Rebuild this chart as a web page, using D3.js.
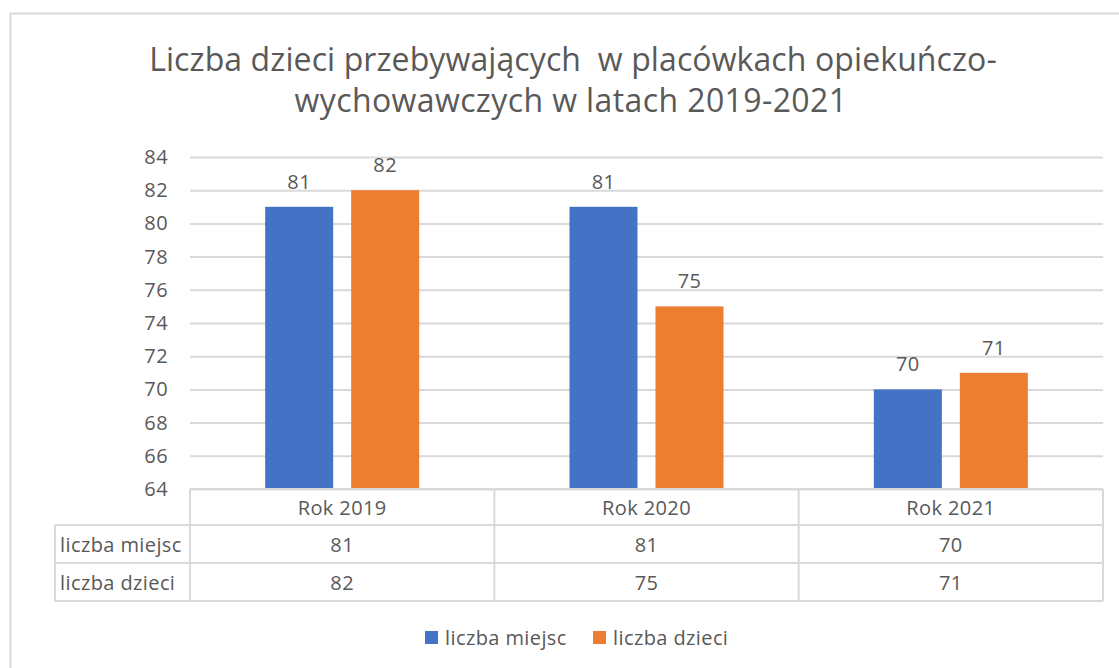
<!DOCTYPE html>
<html>
<head>
<meta charset="utf-8">
<script src="https://cdnjs.cloudflare.com/ajax/libs/d3/7.8.5/d3.min.js"></script>
<style>
  body { margin: 0; background: #fff; }
  svg text { font-family: "Open Sans", Lato, sans-serif; fill: #595959; }
  .lbl { font-size: 20px; letter-spacing: 0.4px; }
</style>
</head>
<body>
<svg id="chart" width="1119" height="668"></svg>
<script>
// data
var categories = ["Rok 2019", "Rok 2020", "Rok 2021"];
var seriesNames = ["liczba miejsc", "liczba dzieci"];
var miejsc = [81, 81, 70];
var dzieci = [82, 75, 71];
var yTicks = [64, 66, 68, 70, 72, 74, 76, 78, 80, 82, 84];
var colors = ["#4472C4", "#ED7D31"];

var series = [miejsc, dzieci];

var svg = d3.select("#chart");

// outer frame
svg.append("rect")
  .attr("x", 10.5).attr("y", 13.5)
  .attr("width", 1200).attr("height", 700)
  .attr("fill", "none").attr("stroke", "#d9d9d9").attr("stroke-width", 2);

// title
var title = svg.append("text")
  .attr("text-anchor", "middle")
  .style("white-space", "pre")
  .style("font-size", "32px").style("letter-spacing", "0.1px");
title.append("tspan").attr("x", 573).attr("y", 71).text("Liczba dzieci przebywających  w placówkach opiekuńczo-");
title.append("tspan").attr("x", 571).attr("y", 112).style("letter-spacing", "0.4px").text("wychowawczych w latach 2019-2021");

var plot = { left: 190, right: 1103, top: 157, bottom: 489 };

var x = d3.scaleBand().domain(categories).range([plot.left, plot.right]);
var y = d3.scaleLinear().domain([64, 84]).range([plot.bottom, plot.top]);

// grid
var yAxis = d3.axisLeft(y).tickValues(yTicks).tickSize(-(plot.right - plot.left)).tickPadding(22);
var gy = svg.append("g").attr("transform", "translate(" + plot.left + ",0)").call(yAxis);
gy.select(".domain").remove();
gy.selectAll(".tick line").attr("stroke", "#d9d9d9").attr("stroke-width", 2);
gy.selectAll(".tick text").attr("class", "lbl").attr("fill", "#595959");
gy.attr("font-family", null).attr("font-size", null);

// bars
var barW = 68, gap = 18;

series.forEach(function(vals, si) {
  var off = si === 0 ? -(gap / 2 + barW) : gap / 2;
  svg.selectAll(".bar" + si).data(vals).enter().append("rect")
    .attr("class", "bar" + si)
    .attr("x", function(d, i) { return x(categories[i]) + x.bandwidth() / 2 + off; })
    .attr("y", function(d) { return y(d); })
    .attr("width", barW)
    .attr("height", function(d) { return y(64) - y(d); })
    .attr("fill", colors[si]);
  svg.selectAll(".lab" + si).data(vals).enter().append("text")
    .attr("class", "lbl lab" + si)
    .attr("x", function(d, i) { return x(categories[i]) + x.bandwidth() / 2 + off + barW / 2; })
    .attr("y", function(d) { return y(d) - 18; })
    .attr("text-anchor", "middle")
    .text(function(d) { return d; });
});

// data table
var rowH = [plot.bottom, 525, 563, 601];
var tableLeft = 55;
var lineColor = "#d9d9d9";
function hline(x1, x2, yy) {
  svg.append("line").attr("x1", x1).attr("x2", x2).attr("y1", yy).attr("y2", yy)
    .attr("stroke", lineColor).attr("stroke-width", 2);
}
function vline(xx, y1, y2) {
  svg.append("line").attr("x1", xx).attr("x2", xx).attr("y1", y1).attr("y2", y2)
    .attr("stroke", lineColor).attr("stroke-width", 2);
}
hline(plot.left, plot.right, rowH[0]);
hline(tableLeft, plot.right, rowH[1]);
hline(tableLeft, plot.right, rowH[2]);
hline(tableLeft, plot.right, rowH[3]);
vline(tableLeft, rowH[1], rowH[3]);
vline(plot.left, rowH[0], rowH[3]);
categories.forEach(function(c) { vline(x(c) + x.bandwidth(), rowH[0], rowH[3]); });

svg.selectAll(".hdr").data(categories).enter().append("text")
  .attr("class", "lbl")
  .attr("x", function(d) { return x(d) + x.bandwidth() / 2; })
  .attr("y", (rowH[0] + rowH[1]) / 2 + 8)
  .attr("text-anchor", "middle")
  .text(function(d) { return d; });

series.forEach(function(vals, si) {
  var cy = (rowH[si + 1] + rowH[si + 2]) / 2 + 8;
  svg.append("text").attr("class", "lbl").attr("x", tableLeft + 5).attr("y", cy)
    .text(seriesNames[si]);
  svg.selectAll(".cell" + si).data(vals).enter().append("text")
    .attr("class", "lbl")
    .attr("x", function(d, i) { return x(categories[i]) + x.bandwidth() / 2; })
    .attr("y", cy)
    .attr("text-anchor", "middle")
    .text(function(d) { return d; });
});

// legend
var legendX = [425, 593];
seriesNames.forEach(function(n, si) {
  svg.append("rect").attr("x", legendX[si]).attr("y", 631).attr("width", 13).attr("height", 13)
    .attr("fill", colors[si]);
  svg.append("text").attr("class", "lbl").attr("x", legendX[si] + 20).attr("y", 645)
    .text(n);
});
</script>
</body>
</html>
